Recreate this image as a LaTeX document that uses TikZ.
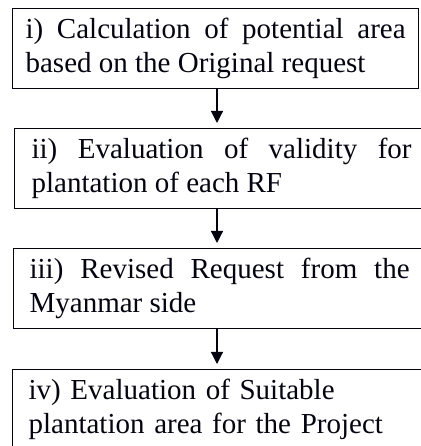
\documentclass[tikz,border=0pt]{standalone}
\usepackage{fontspec}
\setmainfont{Liberation Serif}
\usetikzlibrary{arrows.meta}
\usetikzlibrary{positioning}
\definecolor{ink}{RGB}{4,4,16}

\begin{document}
\begin{tikzpicture}[x=1pt,y=1pt,
    stage/.style={draw=ink,text=ink,line width=1.2pt,rectangle,anchor=north west,
      text width=380pt,align=justify,minimum height=80pt,inner ysep=0pt,
      font=\fontsize{29}{34}\selectfont},
    flow/.style={draw=ink,fill=ink,line width=1.2pt,-{Triangle[width=12pt,length=12pt]},shorten >=5pt}]
      \useasboundingbox (0,0) rectangle (420,446);
      \coordinate (axis) at (217,0);
      \node[stage,inner xsep=13pt](S1) at (12,438) {i) Calculation of potential area \linebreak based on the Original request};
      \node[stage,inner xsep=17pt](S2) at (14,318) {ii) Evaluation of validity for \linebreak plantation of each RF};
      \node[stage,inner xsep=16pt](S3) at (13,198) {iii) Revised Request from the \linebreak Myanmar side};
      \node[stage,inner xsep=16pt,align=left](S4) at (12,77) {iv) Evaluation of Suitable\\plantation area for the Project};
      %%
      \draw[flow](S1.south -| axis)--(S2.north -| axis);
      \draw[flow](S2.south -| axis)--(S3.north -| axis);
      \draw[flow](S3.south -| axis)--(S4.north -| axis);
    \end{tikzpicture}
\end{document}
